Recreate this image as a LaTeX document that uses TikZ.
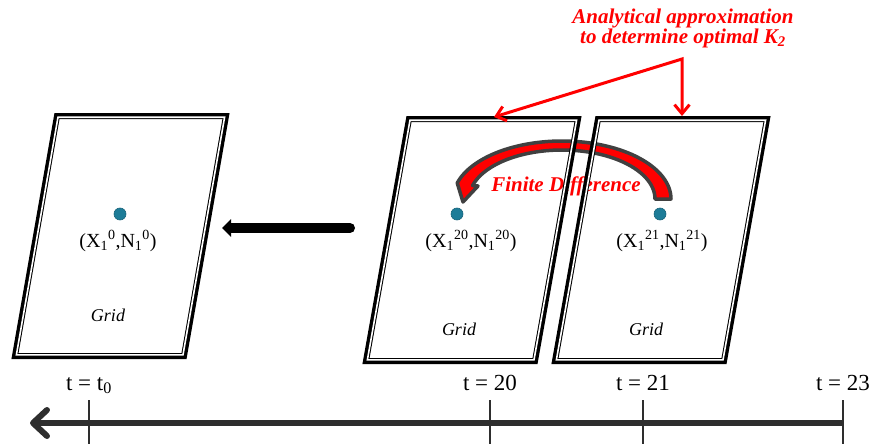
\documentclass[tikz,border=0pt]{standalone}
\usepackage{fontspec}
\setmainfont{Liberation Serif}
\usetikzlibrary{arrows.meta}

\definecolor{pointblue}{HTML}{1D7C98}
\definecolor{arcgray}{HTML}{404040}
\definecolor{axisgray}{HTML}{2E2E2E}

\tikzset{
	frame/.style = {line width = 6pt, line join = miter},
	gap/.style = {white, line width = 1.6pt, line join = miter},
	point/.style = {circle, fill = pointblue, draw = pointblue!80!black, line width = 0.6pt, minimum size = 12pt, inner sep = 0pt},
	coord/.style = {anchor = base, inner sep = 0pt, font = \fontsize{20}{22}\selectfont},
	gridname/.style = {anchor = base, inner sep = 0pt, font = \fontsize{18}{20}\selectfont\itshape},
	redtext/.style = {inner sep = 0pt, text = red, font = \fontsize{21}{20}\selectfont\bfseries\itshape},
	tlabel/.style = {anchor = base, inner sep = 0pt, font = \fontsize{23}{25}\selectfont},
	tick/.style = {axisgray, line width = 2.5pt},
}

\begin{document}
\begin{tikzpicture}[x = 1pt, y = -1pt, > = {Straight Barb[length = 9pt, width = 15pt]}]

	\useasboundingbox (0, 0) rectangle (870, 444);

	% Points

	\node [point] (pA) at (120, 214) {};
	\node [point] (pB) at (457, 214) {};
	\node [point] (pC) at (660, 214) {};

	% Labels

	\node [coord] (labA) at (118, 247) {(X\textsubscript{1}\textsuperscript{0},N\textsubscript{1}\textsuperscript{0})};
	\node [coord] (labB) at (471, 247) {(X\textsubscript{1}\textsuperscript{20},N\textsubscript{1}\textsuperscript{20})};
	\node [coord] (labC) at (662, 247) {(X\textsubscript{1}\textsuperscript{21},N\textsubscript{1}\textsuperscript{21})};

	\node [gridname] (nameA) at (108, 321) {Grid};
	\node [gridname] (nameB) at (459, 335) {Grid};
	\node [gridname] (nameC) at (646, 335) {Grid};

	% Finite difference arrow

	\path [fill = red, draw = arcgray, line width = 3.5pt, line join = round]
		plot [domain = 0:164, samples = 60] ({562 + 109*cos(\x)}, {199 - 58*sin(\x)})
		-- (463, 202) -- (478, 186)
		-- plot [domain = 164:0, samples = 60] ({562 + 93*cos(\x)}, {199 - 49*sin(\x)})
		-- cycle;

	\node [redtext] (fd) at (566, 186) {Finite Difference};

	% Grids

	\draw [frame] (57, 116) -- ++(169, 0) -- ++(-42, 240) -- ++(-169, 0) -- cycle;
	\draw [gap] (58, 117.2) -- ++(166.6, 0) -- ++(-41.6, 237.6) -- ++(-166.6, 0) -- cycle;

	\draw [frame] (409, 119) -- ++(169, 0) -- ++(-43, 242) -- ++(-169, 0) -- cycle;
	\draw [gap] (410, 120.2) -- ++(166.6, 0) -- ++(-42.6, 239.6) -- ++(-166.6, 0) -- cycle;

	\draw [frame] (598, 119) -- ++(169, 0) -- ++(-43, 242) -- ++(-169, 0) -- cycle;
	\draw [gap] (599, 120.2) -- ++(166.6, 0) -- ++(-42.6, 239.6) -- ++(-166.6, 0) -- cycle;

	% Step back in time

	\coordinate (fromB) at (350, 228);
	\coordinate (toA) at (222, 228);
	\draw [line width = 10pt, line cap = round, -{Triangle[length = 9pt, width = 17pt]}] (fromB) -- (toA);

	% Annotation

	\node [redtext, align = center] (note) at (683, 28) {Analytical approximation\\to determine optimal K\textsubscript{2}};
	\coordinate (junc) at (682, 59);
	\coordinate (hitB) at (494, 117);
	\coordinate (hitC) at (682, 116);
	\draw [<->, red, line width = 3pt, line join = miter] (hitB) -- (junc) -- (hitC);

	% Time axis

	\coordinate (t0) at (89, 423);
	\coordinate (t20) at (490, 423);
	\coordinate (t21) at (643, 423);
	\coordinate (t23) at (843, 423);
	\coordinate (past) at (30, 423);

	\draw [axisgray, line width = 6pt, {Straight Barb[length = 14pt, width = 26pt, line cap = round, line join = round]}-] (past) -- (t23);

	\draw [tick] (t0) ++(0, -23) -- ++(0, 46);
	\draw [tick] (t20) ++(0, -23) -- ++(0, 46);
	\draw [tick] (t21) ++(0, -23) -- ++(0, 46);
	\draw [tick] (t23) ++(0, -23) -- ++(0, 46);

	\node [tlabel] (lab0) at (89, 390) {t = t\textsubscript{0}};
	\node [tlabel] (lab20) at (490, 390) {t = 20};
	\node [tlabel] (lab21) at (643, 390) {t = 21};
	\node [tlabel] (lab23) at (843, 390) {t = 23};

\end{tikzpicture}
\end{document}
